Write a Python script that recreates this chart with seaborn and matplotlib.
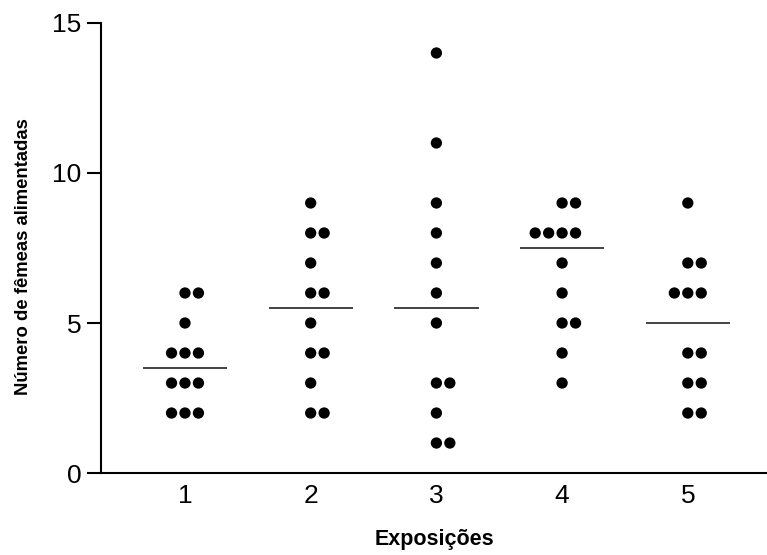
import numpy as np
import pandas as pd
import seaborn as sns
import matplotlib.pyplot as plt

# --- data ---
groups = ["1", "2", "3", "4", "5"]
exp1 = [6, 6, 5, 4, 4, 4, 3, 3, 3, 2, 2, 2]
exp2 = [9, 8, 8, 7, 6, 6, 5, 4, 4, 3, 2, 2]
exp3 = [14, 11, 9, 8, 7, 6, 5, 3, 3, 2, 1, 1]
exp4 = [9, 9, 8, 8, 8, 8, 7, 6, 5, 5, 4, 3]
exp5 = [9, 7, 7, 6, 6, 6, 4, 4, 3, 3, 2, 2]

rows = []
for g, vals in zip(groups, [exp1, exp2, exp3, exp4, exp5]):
    for v in vals:
        rows.append({"exp": g, "n": v})
df = pd.DataFrame(rows)

# spread tied values sideways, like the hand-made dot plot
spacing = 0.107
df["gi"] = df["exp"].map({g: i for i, g in enumerate(groups)})
df["k"] = df.groupby(["exp", "n"]).cumcount()
df["cnt"] = df.groupby(["exp", "n"])["n"].transform("size")
start = np.where(df["cnt"] == 2, 0, -(df["cnt"] // 2))
df["pos"] = df["gi"] + (start + df["k"]) * spacing

sns.set_style("ticks")
plt.rcParams["font.family"] = ["Liberation Sans", "DejaVu Sans"]
plt.rcParams["text.color"] = "black"
plt.rcParams["axes.labelcolor"] = "black"

fig = plt.figure(figsize=(7.67, 5.55), dpi=100)
ax = fig.add_axes([0.1317, 0.1477, 0.8683, 0.8109])

# median bars
sns.boxplot(data=df, x="exp", y="n", order=groups, width=0.67,
            showbox=False, showcaps=False, showfliers=False,
            whiskerprops={"visible": False},
            medianprops={"color": "#222222", "linewidth": 1.2},
            ax=ax)

sns.scatterplot(data=df, x="pos", y="n", color="black", s=66,
                edgecolor="none", ax=ax)

ax.set_xlim(-0.668, 4.63)
ax.set_ylim(0, 15)
ax.set_yticks([0, 5, 10, 15])
ax.set_xticks(range(len(groups)))
ax.set_xticklabels(groups)

for side in ["top", "right"]:
    ax.spines[side].set_visible(False)
for side in ["left", "bottom"]:
    ax.spines[side].set_linewidth(1.5)
    ax.spines[side].set_color("black")

ax.tick_params(axis="y", length=10, width=1.5, pad=4, labelsize=19,
               color="black", labelcolor="black")
ax.tick_params(axis="x", length=0, pad=8, labelsize=19, labelcolor="black")

ax.set_xlabel("Exposições", fontsize=15.5, fontweight="bold", labelpad=15)
ax.set_ylabel("Número de fêmeas alimentadas", fontsize=13.3, fontweight="bold")
ax.yaxis.set_label_coords(-0.104, 0.482)

fig.savefig("out.png", dpi=100)
